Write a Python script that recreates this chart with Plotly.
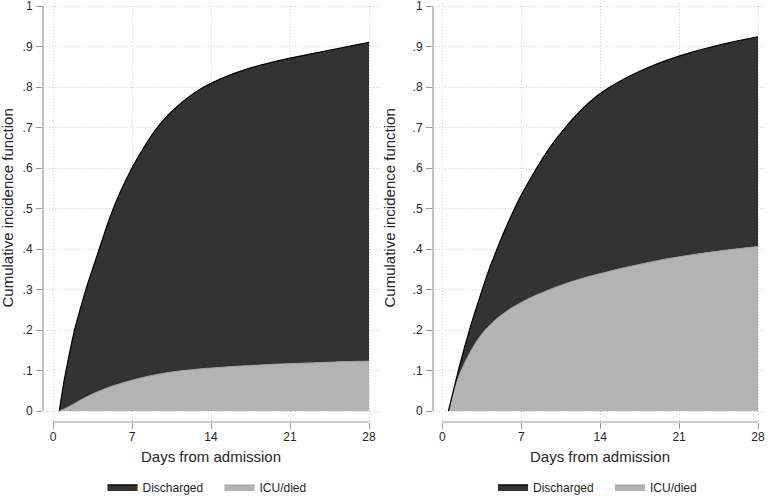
import plotly.graph_objects as go

# ---------------- data ----------------
days = [0.55, 1, 1.5, 2, 2.5, 3, 3.5, 4, 5, 6, 7, 8, 9, 10, 11, 12, 13, 14,
        16, 18, 20, 22, 24, 26, 28]

# Left panel: cumulative incidence of each competing event
left_icu = [0, 0.005, 0.012, 0.020, 0.028, 0.035, 0.042, 0.048, 0.059, 0.068,
            0.076, 0.083, 0.089, 0.094, 0.098, 0.101, 0.104, 0.106, 0.110,
            0.113, 0.116, 0.118, 0.120, 0.122, 0.123]
left_discharged = [0, 0.072, 0.136, 0.190, 0.232, 0.273, 0.308, 0.344, 0.416,
                   0.475, 0.524, 0.565, 0.602, 0.631, 0.654, 0.674, 0.690,
                   0.703, 0.723, 0.738, 0.749, 0.759, 0.768, 0.777, 0.787]

# Right panel
right_icu = [0, 0.048, 0.088, 0.120, 0.147, 0.170, 0.190, 0.206, 0.232, 0.252,
             0.268, 0.282, 0.294, 0.305, 0.315, 0.324, 0.332, 0.339, 0.353,
             0.365, 0.376, 0.385, 0.393, 0.400, 0.406]
right_discharged = [0, 0.004, 0.020, 0.040, 0.062, 0.083, 0.106, 0.132, 0.178,
                    0.223, 0.265, 0.300, 0.334, 0.363, 0.388, 0.410, 0.429,
                    0.445, 0.465, 0.480, 0.491, 0.500, 0.507, 0.513, 0.518]

series_names = ["Discharged", "ICU/died"]
x_tickvals = [0, 7, 14, 21, 28]
y_tickvals = [0, 0.1, 0.2, 0.3, 0.4, 0.5, 0.6, 0.7, 0.8, 0.9, 1]
y_ticktext = ["0", ".1", ".2", ".3", ".4", ".5", ".6", ".7", ".8", ".9", "1"]
x_title = "Days from admission"
y_title = "Cumulative incidence function"

# ---------------- styling ----------------
W, H = 768, 496
FONT = "Liberation Sans, Arial, sans-serif"
DARK = "#333333"
LIGHT = "#b3b3b3"
AXIS_COL = "#9a9a9a"
GRID_COL = "#d0d0d0"
TXT = "#262626"

fig = go.Figure()

panels = [
    ("x", "y", "left", "legend", left_icu, left_discharged),
    ("x2", "y2", "right", "legend2", right_icu, right_discharged),
]
for xa, ya, grp, leg, icu, dis in panels:
    fig.add_trace(go.Scatter(
        x=days, y=icu, name=series_names[1], stackgroup=grp,
        xaxis=xa, yaxis=ya, legend=leg, legendrank=2,
        mode="lines", line=dict(color="#a2a2a2", width=1, shape="spline", smoothing=0.5),
        fillcolor=LIGHT, hoverinfo="skip"))
    fig.add_trace(go.Scatter(
        x=days, y=dis, name=series_names[0], stackgroup=grp,
        xaxis=xa, yaxis=ya, legend=leg, legendrank=1,
        mode="lines", line=dict(color="#000000", width=1.2, shape="spline", smoothing=0.5),
        fillcolor=DARK, hoverinfo="skip"))

# panel geometry in pixels
left_px = (43, 380)
right_px = (433, 766)
top_px, bottom_px = 3, 422


def xrange_for(px, zero_px, per_day):
    return [(px[0] - zero_px) / per_day, (px[1] - zero_px) / per_day]


x1_range = xrange_for(left_px, 53, (369 - 53) / 28)
x2_range = xrange_for(right_px, 442.3, (758 - 442.3) / 28)
per_unit = (411 - 6) / 1.0
y_range = [-(bottom_px - 411) / per_unit, 1 + (6 - top_px) / per_unit]

common_x = dict(
    tickvals=x_tickvals, ticks="outside", ticklen=6, tickcolor=AXIS_COL,
    tickfont=dict(family=FONT, size=12, color=TXT), ticklabeloverflow="allow",
    ticklabelstandoff=-2,
    showgrid=True, gridcolor=GRID_COL, griddash="1px,2px", gridwidth=1,
    showline=False, zeroline=False, fixedrange=True, automargin=False)
common_y = dict(
    tickvals=y_tickvals, ticktext=y_ticktext, ticks="outside", ticklen=6,
    tickcolor=AXIS_COL, tickfont=dict(family=FONT, size=12, color=TXT),
    ticklabeloverflow="allow", ticklabelstandoff=1,
    showgrid=True, gridcolor=GRID_COL, griddash="1px,2px", gridwidth=1,
    showline=False, zeroline=False, range=y_range, fixedrange=True,
    automargin=False, domain=[1 - bottom_px / H, 1 - top_px / H])

legend_common = dict(orientation="h", xanchor="center", y=-0.011, yanchor="bottom",
                     traceorder="normal", entrywidth=72, entrywidthmode="pixels",
                     font=dict(family=FONT, size=12, color=TXT), bgcolor="rgba(0,0,0,0)")

fig.update_layout(
    width=W, height=H,
    margin=dict(l=0, r=0, t=0, b=0, autoexpand=False),
    paper_bgcolor="white", plot_bgcolor="white",
    font=dict(family=FONT, size=12, color=TXT),
    xaxis=dict(common_x, domain=[left_px[0] / W, left_px[1] / W], range=x1_range, anchor="y"),
    yaxis=dict(common_y, anchor="x"),
    xaxis2=dict(common_x, domain=[right_px[0] / W, right_px[1] / W], range=x2_range, anchor="y2"),
    yaxis2=dict(common_y, anchor="x2"),
    legend=dict(legend_common, x=219.5 / W),
    legend2=dict(legend_common, x=610 / W),
    showlegend=True,
)

# offset axis lines (Stata style)
for xa, ya in [("x", "y"), ("x2", "y2")]:
    fig.add_shape(type="line", xref=f"{xa} domain", yref=ya, x0=0, x1=0,
                  y0=y_tickvals[0], y1=y_tickvals[-1], line=dict(color=AXIS_COL, width=1.2))
    fig.add_shape(type="line", xref=xa, yref=f"{ya} domain", x0=x_tickvals[0],
                  x1=x_tickvals[-1], y0=0, y1=0, line=dict(color=AXIS_COL, width=1.2))

# axis titles
for cx in [7, 389]:
    fig.add_annotation(text=y_title, xref="paper", yref="paper",
                       x=cx / W, y=1 - 208.5 / H,
                       xanchor="center", yanchor="middle", showarrow=False, textangle=-90,
                       font=dict(family=FONT, size=15, color=TXT))
for cx in [211, 600]:
    fig.add_annotation(text=x_title, xref="paper", yref="paper", x=cx / W, y=1 - 456 / H,
                       xanchor="center", yanchor="middle", showarrow=False,
                       font=dict(family=FONT, size=15, color=TXT))

# remove the default 8px page margin and any page overflow
page_js = ("document.body.style.margin='0';"
           "document.body.style.overflow='hidden';"
           "document.documentElement.style.overflow='hidden';")
fig.write_html("out.html", post_script=page_js, config={"displayModeBar": False})
